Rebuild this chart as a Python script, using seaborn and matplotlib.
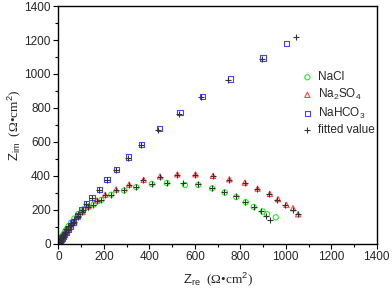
import numpy as np
import pandas as pd
import matplotlib
matplotlib.use('Agg')
import matplotlib.pyplot as plt
from matplotlib.ticker import MultipleLocator
import seaborn as sns

# measured impedance (Z_re, Z_im) in Ohm cm^2
nacl_re = [3, 5, 8, 11, 14, 18, 23, 29, 36, 45, 56, 70, 88, 110, 130, 155, 189, 232,
           289, 342, 411, 477, 557, 615, 676, 732, 782, 824, 859, 899, 918, 956]
nacl_im = [6, 11, 18, 26, 35, 45, 57, 71, 86, 104, 124, 148, 175, 202, 216, 230, 258, 288,
           313, 333, 352, 357, 345, 346, 326, 301, 274, 244, 216, 189, 173, 155]

na2so4_re = [4, 7, 10, 14, 18, 23, 29, 36, 45, 56, 70, 86, 106, 132, 170, 206, 254, 311,
             375, 447, 523, 603, 680, 752, 820, 876, 930, 966, 1003, 1032, 1054]
na2so4_im = [5, 10, 17, 25, 34, 45, 57, 71, 88, 108, 131, 158, 186, 220, 254, 288, 319, 348,
             376, 396, 408, 408, 399, 379, 359, 324, 293, 262, 228, 209, 173]

nahco3_re = [5, 8, 12, 16, 21, 27, 34, 42, 52, 64, 85, 104, 123, 148, 180, 214, 254, 307,
             367, 444, 535, 635, 756, 900, 1003]
nahco3_im = [8, 15, 24, 33, 43, 55, 68, 84, 103, 126, 165, 199, 234, 274, 321, 376, 435, 510,
             585, 677, 774, 868, 970, 1094, 1180]

# fitted values
fit_nacl_re = [2, 4, 7, 10, 13, 17, 22, 28, 35, 44, 55, 69, 87, 108, 128, 153, 188, 231,
               287, 341, 410, 478, 546, 612, 674, 730, 780, 822, 860, 890, 912, 930]
fit_nacl_im = [5, 10, 17, 25, 34, 44, 56, 70, 85, 103, 123, 147, 174, 200, 215, 229, 257, 289,
               314, 336, 354, 360, 358, 349, 330, 305, 278, 247, 218, 191, 164, 140]

fit_na2so4_re = [3, 6, 9, 13, 17, 22, 28, 35, 44, 55, 69, 85, 105, 131, 169, 205, 252, 309,
                 374, 446, 522, 602, 679, 751, 819, 875, 928, 963, 998, 1030, 1052]
fit_na2so4_im = [4, 9, 16, 24, 33, 44, 56, 70, 87, 107, 130, 157, 185, 218, 252, 286, 317, 346,
                 374, 394, 406, 406, 397, 377, 357, 322, 290, 258, 226, 196, 176]

fit_nahco3_re = [4, 7, 11, 15, 20, 26, 33, 41, 51, 63, 84, 103, 122, 147, 178, 212, 253, 305,
                 365, 440, 530, 628, 748, 895, 1045]
fit_nahco3_im = [6, 13, 22, 31, 41, 53, 66, 82, 101, 124, 163, 197, 232, 271, 318, 372, 432, 505,
                 580, 670, 765, 862, 962, 1090, 1215]

fit_re = fit_nacl_re + fit_na2so4_re + fit_nahco3_re
fit_im = fit_nacl_im + fit_na2so4_im + fit_nahco3_im

sns.set_style('ticks')
plt.rcParams['font.family'] = ['Liberation Sans', 'DejaVu Sans']
plt.rcParams['mathtext.fontset'] = 'custom'
plt.rcParams['mathtext.rm'] = 'Liberation Sans'

fig = plt.figure(figsize=(3.92, 2.90), dpi=100)
ax = fig.add_axes([0.149, 0.160, 0.812, 0.819])

series = [
    (nacl_re, nacl_im, 'o', '#22ee22', 'NaCl'),
    (na2so4_re, na2so4_im, '^', '#ff4444', 'Na$_2$SO$_4$'),
    (nahco3_re, nahco3_im, 's', '#4444ff', 'NaHCO$_3$'),
]
for xs, ys, m, c, lab in series:
    df = pd.DataFrame({'re': xs, 'im': ys})
    sns.scatterplot(data=df, x='re', y='im', marker=m, s=14, color=c,
                    facecolor='none', edgecolor=c, linewidth=0.8, label=lab, ax=ax)

fit_df = pd.DataFrame({'re': fit_re, 'im': fit_im})
sns.scatterplot(data=fit_df, x='re', y='im', marker='+', s=24, color='#333333',
                linewidth=0.8, label='fitted value', ax=ax)

ax.set_xlim(0, 1400)
ax.set_ylim(0, 1400)
ax.xaxis.set_major_locator(MultipleLocator(200))
ax.yaxis.set_major_locator(MultipleLocator(200))
ax.xaxis.set_minor_locator(MultipleLocator(100))
ax.yaxis.set_minor_locator(MultipleLocator(100))
ax.tick_params(which='major', length=3.5, width=0.8, labelsize=8.5, pad=2, color='black')
ax.tick_params(which='minor', length=2, width=0.8, color='black')
for sp in ax.spines.values():
    sp.set_linewidth(1.0)
    sp.set_color('black')

ax.set_xlabel('$\\rm Z_{re}$  (Ω•cm$^2$)', fontsize=9.5, family='Liberation Serif', labelpad=5)
ax.set_ylabel('$\\rm Z_{im}$  (Ω•cm$^2$)', fontsize=9.5, family='Liberation Serif', labelpad=1)

ax.legend(loc='upper left', bbox_to_anchor=(0.745, 0.745), frameon=False, fontsize=8.5,
          handletextpad=0.3, labelspacing=0.3, handlelength=1.2, borderaxespad=0)

fig.savefig('out.png', dpi=100)
